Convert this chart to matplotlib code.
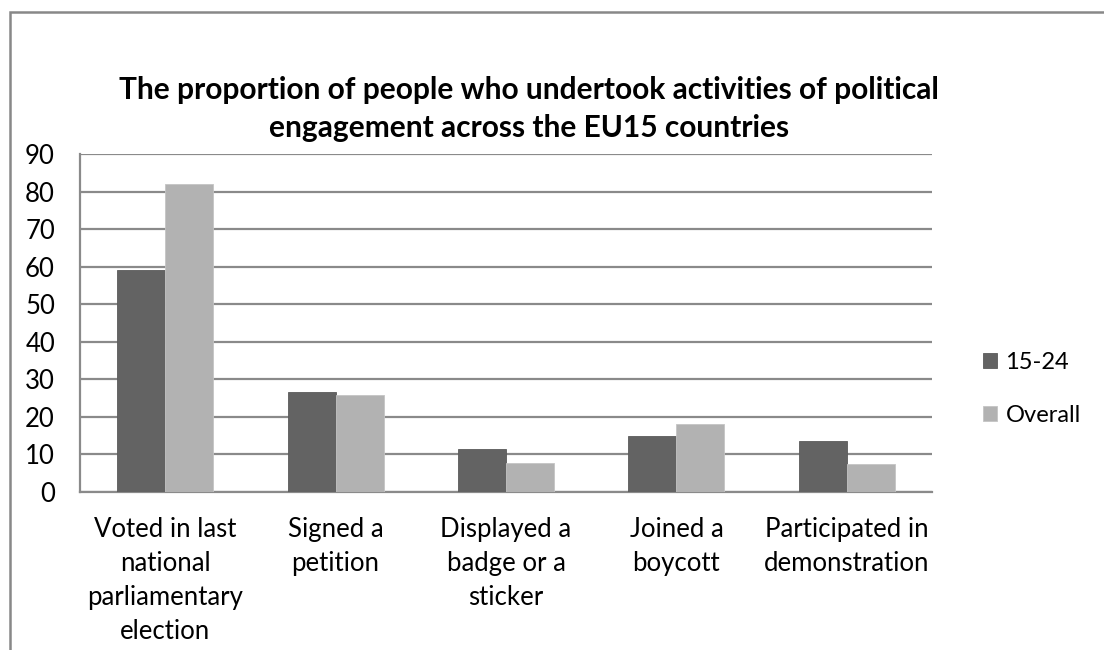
import matplotlib.pyplot as plt
import numpy as np
from matplotlib.patches import Rectangle

plt.rcParams['font.family'] = ['Lato', 'DejaVu Sans']

# activity categories (wrapped as on the axis) and the two series
activities = ["Voted in last\nnational\nparliamentary\nelection",
              "Signed a\npetition",
              "Displayed a\nbadge or a\nsticker",
              "Joined a\nboycott",
              "Participated in\ndemonstration"]
series_names = ["15-24", "Overall"]
young = [59, 26.7, 11.5, 15, 13.7]
overall = [82, 25.7, 7.8, 18, 7.5]
yticks = list(range(0, 100, 10))

dark = "#636363"
light = "#b2b2b2"
grid_col = "#8a8a8a"

fig = plt.figure(figsize=(11.04, 6.5), dpi=100)
ax = fig.add_axes([80 / 1104, 158 / 650, 852 / 1104, 338 / 650])

x = np.arange(len(activities))
w = 0.282
b1 = ax.bar(x - w / 2, young, w, color=dark, edgecolor="#5a5a5a", linewidth=0.6, zorder=3, label=series_names[0])
b2 = ax.bar(x + w / 2, overall, w, color=light, edgecolor="#c4c4c4", linewidth=0.6, zorder=3, label=series_names[1])

ax.set_xlim(-0.5, len(activities) - 0.5)
ax.set_ylim(0, 90)
ax.set_yticks(yticks)
ax.set_xticks(x)
ax.set_xticklabels(activities, fontsize=18.5, linespacing=1.45)
ax.tick_params(axis="y", labelsize=18.5, length=0, pad=18)
ax.tick_params(axis="x", length=0, pad=18)
for lbl in ax.get_yticklabels():
    lbl.set_horizontalalignment("right")
ax.yaxis.grid(True, color=grid_col, linewidth=1.6, zorder=0)
for s in ["top", "right"]:
    ax.spines[s].set_visible(False)
for s in ["left", "bottom"]:
    ax.spines[s].set_color(grid_col)
    ax.spines[s].set_linewidth(1.6)

fig.text(529 / 1104, 1 - 109 / 650,
         "The proportion of people who undertook activities of political\nengagement across the EU15 countries",
         ha="center", va="center", fontsize=21.5, fontweight="bold", linespacing=1.45)

fig.legend(handles=[b1, b2], labels=series_names, loc="center left",
           bbox_to_anchor=(983 / 1104, 1 - 389 / 650), frameon=False,
           fontsize=17, handlelength=0.6, handleheight=0.6,
           handletextpad=0.35, labelspacing=1.35, borderpad=0, borderaxespad=0)

# chart frame, open at right and bottom where the image is cut
fig.patches.append(Rectangle((10 / 1104, -0.05), 1.1, 1 - 12 / 650 + 0.05,
                             transform=fig.transFigure, fill=False,
                             edgecolor="#888888", linewidth=1.8))

fig.savefig("out.png", dpi=100)
